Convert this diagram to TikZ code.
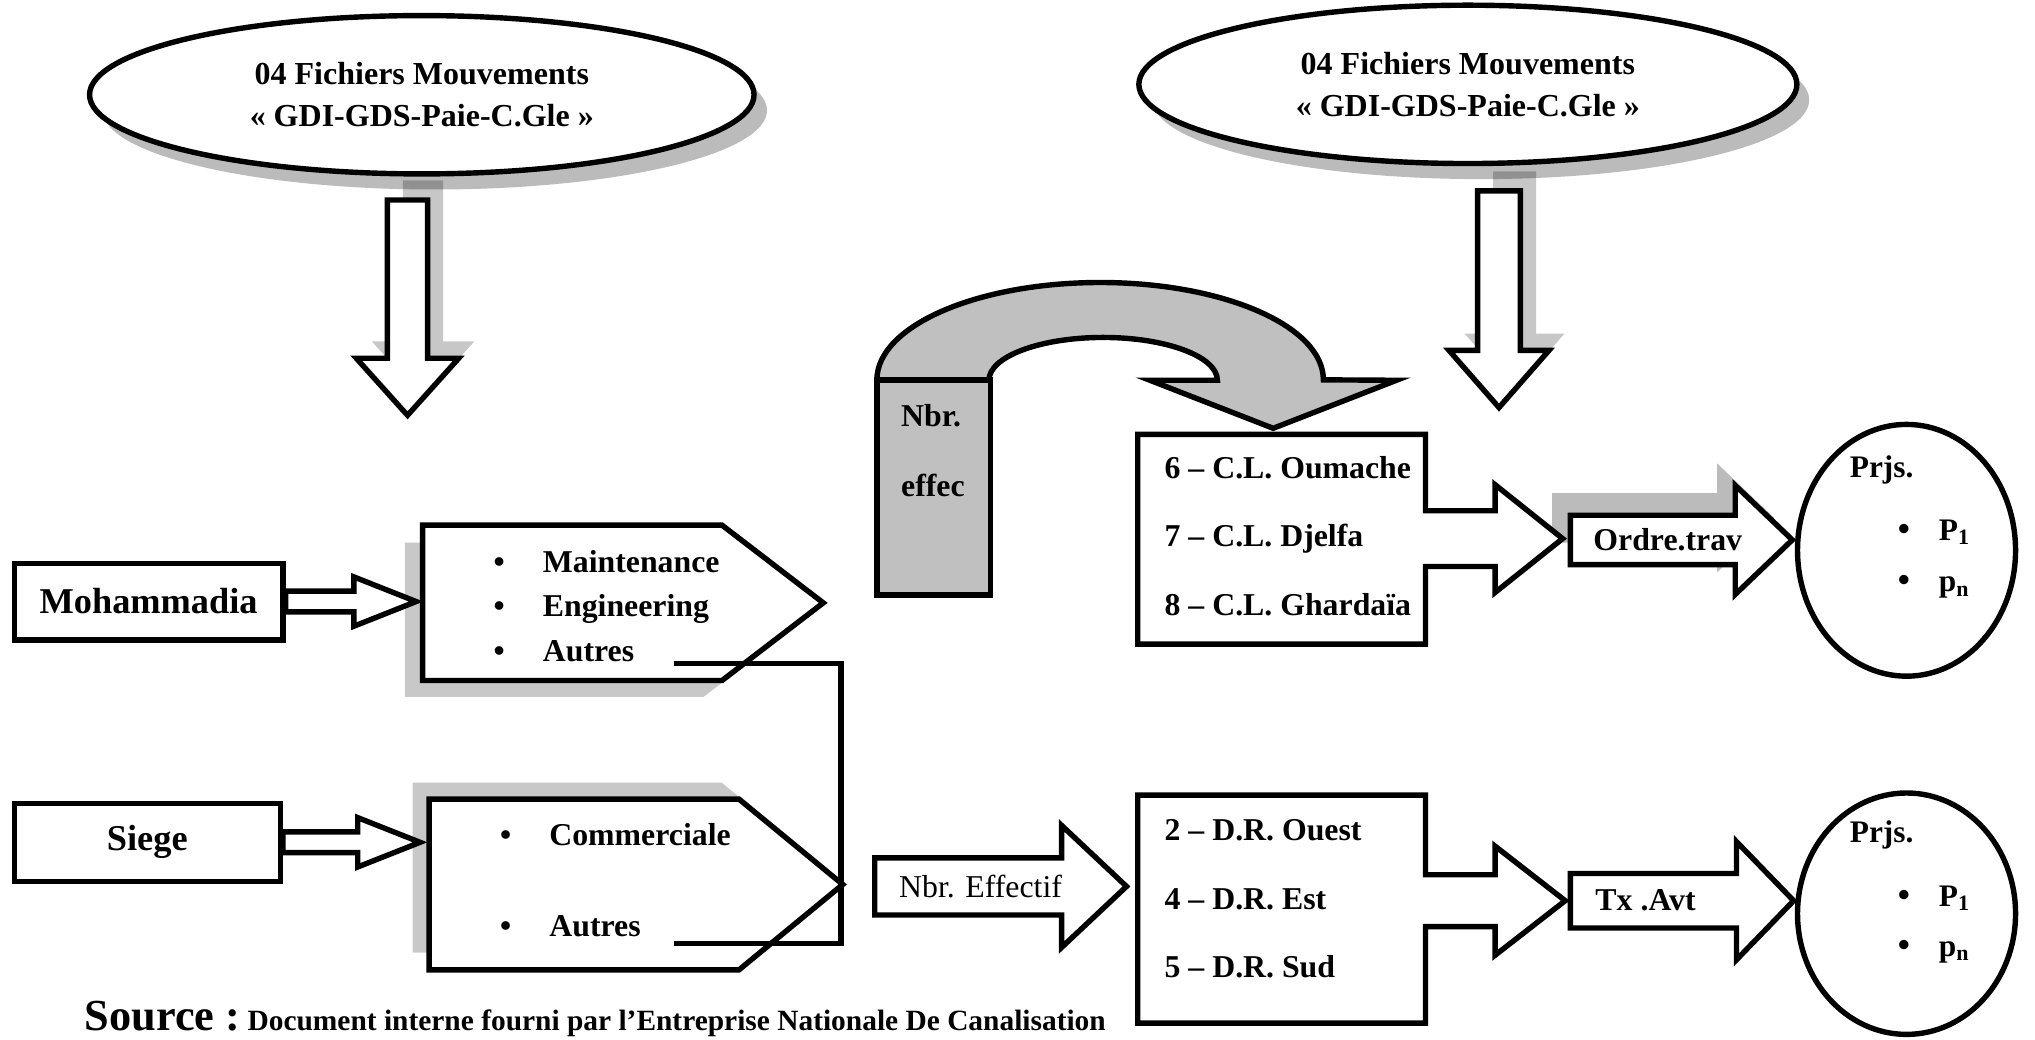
\documentclass[tikz,border=0pt]{standalone}
\usepackage{fontspec}
\setmainfont{Liberation Serif}
\usetikzlibrary{calc,shapes.geometric}

\newcommand{\uu}{0.6pt}
\definecolor{boxgray}{HTML}{C0C0C0}
\definecolor{shadegray}{HTML}{C8C8C8}
\definecolor{ovalshade}{HTML}{BBBBBB}

% horizontal block arrow: style, tail, tip, shaft half-width, head half-width, head length
\newcommand{\hblock}[6]{\draw[#1] ($(#2)+(0,-#4)$) -- ($(#3)+(-#6,-#4)$) -- ($(#3)+(-#6,-#5)$) -- (#3)
  -- ($(#3)+(-#6,#5)$) -- ($(#3)+(-#6,#4)$) -- ($(#2)+(0,#4)$) -- cycle;}
% downward block arrow: style, top, tip, shaft half-width, head half-width, head length
\newcommand{\vblock}[6]{\draw[#1] ($(#2)+(-#4,0)$) -- ($(#2)+(#4,0)$) -- ($(#3)+(#4,-#6)$) -- ($(#3)+(#5,-#6)$) -- (#3)
  -- ($(#3)+(-#5,-#6)$) -- ($(#3)+(-#4,-#6)$) -- cycle;}
\newcommand{\bul}{\makebox[22.8pt][l]{\textbullet}}
\newcommand{\pbul}{\makebox[19pt][l]{\fontsize{16}{16}\selectfont\textbullet}}

\begin{document}
\begin{tikzpicture}[x=0.6pt, y=-0.6pt,
  ol/.style={draw=black, line width=2.5pt, line join=miter, miter limit=10},
  wbox/.style={ol, fill=white},
  lbl/.style={inner sep=0pt, font=\bfseries\fontsize{14.7}{17}\selectfont},
  oval/.style={wbox, ellipse, inner sep=0pt, align=center,
    font=\bfseries\fontsize{14.8}{19.2}\selectfont},
  armshade/.style={fill=black, fill opacity=0.22, draw=none}]

\useasboundingbox (0,0) rectangle (1568,801);
\fill[white] (0,0) rectangle (1568,801);

% ---- shadows of the two ovals and their down arrows
\fill[ovalshade] (335,85) ellipse [x radius=256, y radius=61];
\fill[ovalshade] (1141,77) ellipse [x radius=253, y radius=61];
\coordinate (d1s) at (326,139); \coordinate (d1st) at (326,307);
\vblock{armshade}{d1s}{d1st}{15.5}{39.5}{44}
\coordinate (d2s) at (1167,132); \coordinate (d2st) at (1167,301);
\vblock{armshade}{d2s}{d2st}{16.5}{38.5}{44}

% ---- the two ovals
\node[oval, minimum width=512*\uu, minimum height=122*\uu] (e1) at (325,73)
  {04 Fichiers Mouvements\\« GDI-GDS-Paie-C.Gle »};
\node[oval, minimum width=507*\uu, minimum height=122*\uu] (e2) at (1131,65)
  {04 Fichiers Mouvements\\« GDI-GDS-Paie-C.Gle »};

% ---- down arrows
\coordinate (d1top) at ($(e1.south)+(-11,18)$);
\coordinate (d1tip) at (314,320);
\vblock{wbox}{d1top}{d1tip}{15.5}{39.5}{44}
\coordinate (d2top) at ($(e2.south)+(24,19)$);
\coordinate (d2tip) at (1155,314);
\vblock{wbox}{d2top}{d2tip}{16.5}{38.5}{44}

% ---- sources on the left
\node[wbox, minimum width=207*\uu, minimum height=59*\uu,
  font=\bfseries\fontsize{16.8}{20}\selectfont] (moh) at (114.5,463.5) {Mohammadia};
\node[wbox, minimum width=205*\uu, minimum height=60*\uu,
  font=\bfseries\fontsize{16.8}{20}\selectfont] (sie) at (113.5,649) {Siege};

% ---- pentagon shadows
\fill[shadegray] (312,418) -- (542,418) -- (620,477.5) -- (542,537) -- (312,537) -- cycle;
\fill[shadegray] (318,603) -- (556,603) -- (636,668.5) -- (556,734) -- (318,734) -- cycle;

% ---- pentagons
\node[minimum width=308*\uu, minimum height=119*\uu, inner sep=0pt] (maint) at (480,464.5) {};
\draw[wbox] (maint.north west) -- ($(maint.north east)+(-78,0)$) -- (maint.east)
  -- ($(maint.south east)+(-78,0)$) -- (maint.south west) -- cycle;
\node[lbl, anchor=west, align=left, font=\bfseries\fontsize{14.7}{20.7}\selectfont] (mlist)
  at (380,467) {\bul Maintenance\\\bul Engineering\\\bul Autres};

\node[minimum width=318*\uu, minimum height=131*\uu, inner sep=0pt] (comm) at (490,681.5) {};
\draw[wbox] (comm.north west) -- ($(comm.north east)+(-80,0)$) -- (comm.east)
  -- ($(comm.south east)+(-80,0)$) -- (comm.south west) -- cycle;
\node[lbl, anchor=west, align=left, font=\bfseries\fontsize{14.7}{42}\selectfont] (clist)
  at (385,678) {\bul Commerciale\\\bul Autres};

% ---- arrows into the pentagons
\coordinate (mtip) at ($(maint.west |- moh.east)+(-5,0)$);
\hblock{wbox}{moh.east}{mtip}{8}{19}{48}
\coordinate (stip) at ($(comm.west |- sie.east)+(-7,0)$);
\hblock{wbox}{sie.east}{stip}{8}{19}{48}

% ---- link between the two "Autres"
\coordinate (ca) at (519,511);
\coordinate (cb) at (519,727);
\coordinate (cv) at (648,600);
\draw[ol] (ca) -- (ca -| cv) -- (cb -| cv) -- (cb);

% ---- U-turn arrow with "Nbr. effec"
\node[minimum width=87*\uu, minimum height=165*\uu, inner sep=0pt] (nbr) at (719.5,375.5) {};
\draw[ol, fill=boxgray] (nbr.north west) arc[start angle=180, end angle=360, x radius=172, y radius=75]
  -- (1076,293) -- (981,330) -- (886,293) -- (938,293)
  arc[start angle=0, end angle=-180, x radius=88, y radius=33] -- cycle;
\draw[ol, fill=boxgray] (nbr.north west) rectangle (nbr.south east);
\node[lbl, anchor=west, align=left, font=\bfseries\fontsize{14.7}{32.4}\selectfont] (nbrt)
  at (694,347) {Nbr.\\effec};

% ---- shadow of Ordre.trav
\coordinate (os1) at (1196,399); \coordinate (os2) at (1367,399);
\hblock{fill=ovalshade, draw=none}{os1}{os2}{19}{42}{44}

% ---- C.L. block with its arrow
\node[minimum width=221*\uu, minimum height=161*\uu, inner sep=0pt] (cl) at (987.5,415.5) {};
\coordinate (ctip) at (1204,415);
\draw[wbox] (cl.north west) -- (cl.north east) -- ($(cl.east |- ctip)+(0,-21.5)$)
  -- ($(ctip)+(-52,-21.5)$) -- ($(ctip)+(-52,-41.5)$) -- (ctip)
  -- ($(ctip)+(-52,41.5)$) -- ($(ctip)+(-52,21.5)$) -- ($(cl.east |- ctip)+(0,21.5)$)
  -- (cl.south east) -- (cl.south west) -- cycle;
\node[lbl, anchor=west, align=left, font=\bfseries\fontsize{14.7}{31.8}\selectfont] (clt)
  at (897,413) {6 – C.L. Oumache\\7 – C.L. Djelfa\\8 – C.L. Ghardaïa};

% ---- D.R. block with its arrow
\node[minimum width=221*\uu, minimum height=175*\uu, inner sep=0pt] (dr) at (987.5,700.5) {};
\coordinate (dtip) at (1206,694);
\draw[wbox] (dr.north west) -- (dr.north east) -- ($(dr.east |- dtip)+(0,-20)$)
  -- ($(dtip)+(-54,-20)$) -- ($(dtip)+(-54,-42)$) -- (dtip)
  -- ($(dtip)+(-54,42)$) -- ($(dtip)+(-54,20)$) -- ($(dr.east |- dtip)+(0,20)$)
  -- (dr.south east) -- (dr.south west) -- cycle;
\node[lbl, anchor=west, align=left, font=\bfseries\fontsize{14.7}{31.5}\selectfont] (drt)
  at (897,692.5) {2 – D.R. Ouest\\4 – D.R. Est\\5 – D.R. Sud};

% ---- Ordre.trav and Tx .Avt arrows
\coordinate (otail) at (1210,416); \coordinate (otip) at (1381,416);
\hblock{wbox}{otail}{otip}{19}{42}{44}
\node[lbl] (ot) at (1285,416) {Ordre.trav};

\coordinate (ttail) at (1210,694); \coordinate (ttip) at (1382,694);
\hblock{wbox}{ttail}{ttip}{21}{45.5}{44}
\node[lbl, anchor=west] (tx) at (1229,694) {Tx .Avt};

% ---- Nbr. Effectif arrow
\coordinate (ntail) at (674,683); \coordinate (ntip) at (868,683);
\hblock{wbox}{ntail}{ntip}{22}{47}{50}
\node[inner sep=0pt, font=\fontsize{14.7}{17}\selectfont] (ne) at (755.5,683) {Nbr. Effectif};

% ---- project circles
\node[wbox, ellipse, minimum width=168*\uu, minimum height=194*\uu] (pr1) at (1469,424) {};
\node[wbox, ellipse, minimum width=168*\uu, minimum height=186*\uu] (pr2) at (1469,704) {};
\begin{scope}[every node/.style={inner sep=0pt, anchor=west, font=\bfseries\fontsize{14.5}{16}\selectfont}]
  \node (p1h) at (1425,362) {Prjs.};
  \node (p1a) at (1462,410) {\pbul P\textsubscript{1}};
  \node (p1b) at (1462,452) {\pbul p\textsubscript{n}};
  \node (p2h) at (1425,643) {Prjs.};
  \node (p2a) at (1462,692) {\pbul P\textsubscript{1}};
  \node (p2b) at (1462,733) {\pbul p\textsubscript{n}};
\end{scope}

% ---- source line
\node[anchor=base west, inner sep=0pt] (src) at (65,794)
  {{\bfseries\fontsize{20.5}{22}\selectfont Source :} {\bfseries\fontsize{13.6}{15}\selectfont Document interne fourni par l’Entreprise Nationale De Canalisation}};

\end{tikzpicture}
\end{document}
